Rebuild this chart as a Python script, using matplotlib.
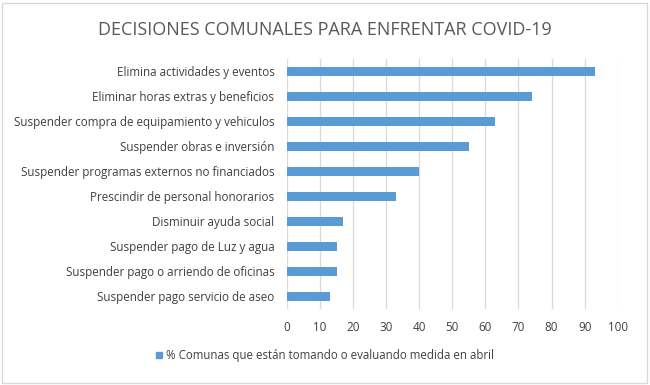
import matplotlib
matplotlib.use("Agg")
import matplotlib.pyplot as plt
from matplotlib.patches import Rectangle

categories = [
    "Elimina actividades y eventos",
    "Eliminar horas extras y beneficios",
    "Suspender compra de equipamiento y vehiculos",
    "Suspender obras e inversión",
    "Suspender programas externos no financiados",
    "Prescindir de personal honorarios",
    "Disminuir ayuda social",
    "Suspender pago de Luz y agua",
    "Suspender pago o arriendo de oficinas",
    "Suspender pago servicio de aseo",
]
values = [93, 74, 63, 55, 40, 33, 17, 15, 15, 13]
xticks = [0, 10, 20, 30, 40, 50, 60, 70, 80, 90, 100]
title = "DECISIONES COMUNALES PARA ENFRENTAR COVID-19"
series_name = "% Comunas que están tomando o evaluando medida en abril"

plt.rcParams['font.family'] = ['Open Sans', 'DejaVu Sans']
txt = "#595959"
txt_dark = "#404040"
bar_color = "#5B9BD5"

fig = plt.figure(figsize=(6.5, 3.85), dpi=100)
ax = fig.add_axes([287/650, 1 - 308.5/385, (617.7 - 287)/650, 250/385])

ypos = list(range(len(categories)))
ax.barh(ypos, values, height=0.36, color=bar_color, zorder=3)
ax.set_ylim(len(categories) - 0.5, -0.5)
ax.set_yticks(ypos)
ax.set_yticklabels(categories, fontsize=8.35, color=txt_dark)
ax.set_xlim(0, 100)
ax.set_xticks(xticks)
ax.set_xticklabels([str(t) for t in xticks], fontsize=8.35, color=txt_dark)
ax.grid(axis='x', color="#d9d9d9", linewidth=0.9, zorder=0)
ax.tick_params(axis='both', length=0)
ax.tick_params(axis='y', pad=9)
ax.tick_params(axis='x', pad=9)
for s in ax.spines.values():
    s.set_visible(False)

fig.text(0.5, 1 - 30/385, title, ha='center', va='center', fontsize=13, color=txt)

# legend
fig.patches.append(Rectangle((156/650, 1 - 358/385), 6/650, 6/385,
                             transform=fig.transFigure, color=bar_color))
fig.text(166/650, 1 - 355/385, series_name, ha='left', va='center', fontsize=8.3, color=txt_dark)

# border
fig.patches.append(Rectangle((2/650, 2/385), 645/650, 380/385, transform=fig.transFigure,
                             fill=False, edgecolor="#d9d9d9", linewidth=1))

fig.savefig("out.png", dpi=100)
